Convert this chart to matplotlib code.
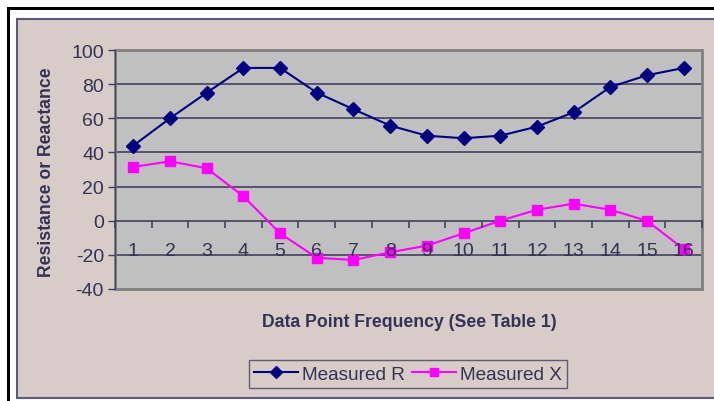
import numpy as np
import matplotlib.pyplot as plt
from matplotlib.patches import Rectangle
from matplotlib.ticker import FixedLocator

plt.rcParams['font.family'] = ['Liberation Sans', 'DejaVu Sans']
plt.rcParams['axes.unicode_minus'] = False

# Datos
puntos = np.arange(1, 17)
medido_r = [44, 60, 75, 89.5, 89.5, 75, 65.3, 55.7, 49.8, 48.3, 49.8, 55.1, 63.5, 78.3, 85.2, 89.5]
medido_x = [31.5, 34.8, 30.7, 14.3, -7.4, -21.7, -23, -18.5, -14.6, -7.4, 0, 6.4, 10, 6.4, 0, -16.6]
etiquetas_x = [str(p) for p in puntos]
ticks_y = [-40, -20, 0, 20, 40, 60, 80, 100]

color_texto = '#333355'
W, H = 714, 402

fig = plt.figure(figsize=(W / 100, H / 100), dpi=100)
fig.patch.set_facecolor('white')

# Fondo: marco negro y area del grafico
fondo = fig.add_axes([0, 0, 1, 1])
fondo.set_xlim(0, W)
fondo.set_ylim(H, 0)
fondo.axis('off')
fondo.add_patch(Rectangle((7, 8), W, 3, facecolor='black', edgecolor='none'))
fondo.add_patch(Rectangle((7, 8), 3, H, facecolor='black', edgecolor='none'))
fondo.add_patch(Rectangle((16.5, 19.5), W + 10, 379, facecolor='#D8CCC8',
                          edgecolor='#5A5A80', linewidth=1.5))

# Area de trazado
ax = fig.add_axes([115 / W, 1 - 290 / H, 587 / W, 239 / H])
ax.set_facecolor('#C0C0C0')
ax.set_xlim(0.5, 16.5)
ax.set_ylim(-40, 100)
ax.set_axisbelow(False)  # etiquetas del eje encima de las series (como en Excel)

ax.plot(puntos, medido_r, color='#000080', marker='D', markersize=7,
        linewidth=1.5, label='Measured R', zorder=2.3)
ax.plot(puntos, medido_x, color='#FF00FF', marker='s', markersize=7.5,
        linewidth=1.5, label='Measured X', zorder=2.3)

# Rejilla
for v in ticks_y[1:-1]:
    if v != 0:
        ax.axhline(v, color='#363656', linewidth=1.1, zorder=1)

# Marco gris
for s in ['top', 'right']:
    ax.spines[s].set_visible(False)
ax.add_patch(Rectangle((0, 0), 1, 1, transform=ax.transAxes, fill=False,
                       edgecolor='#808080', linewidth=2, clip_on=False, zorder=2))
ax.spines['left'].set_color('#404060')
ax.spines['left'].set_zorder(2.5)

# Eje de categorias en y=0
ax.spines['bottom'].set_position(('data', 0))
ax.spines['bottom'].set_color('#404060')
ax.spines['bottom'].set_linewidth(1.2)
ax.spines['bottom'].set_zorder(2.2)
ax.xaxis.set_major_locator(FixedLocator(np.arange(0.5, 17, 1)))
ax.xaxis.set_major_formatter(plt.NullFormatter())
ax.set_xticks(puntos, etiquetas_x, minor=True)
ax.tick_params(axis='x', which='major', direction='out', length=5, width=1.2,
               color='#404060')
ax.tick_params(axis='x', which='minor', length=0, pad=15, labelsize=14,
               labelcolor=color_texto)

ax.set_yticks(ticks_y)
ax.tick_params(axis='y', direction='out', length=5, width=1, color='#404060',
               labelsize=14, labelcolor=color_texto, pad=3)

fig.text(47 / W, 1 - 172 / H, 'Resistance or Reactance', rotation=90,
         ha='center', va='center', fontsize=12.7, fontweight='bold', color=color_texto)
fig.text(409 / W, 1 - 323 / H, 'Data Point Frequency (See Table 1)',
         ha='center', va='center', fontsize=12.7, fontweight='bold', color=color_texto)

leg = fig.legend(loc='center', bbox_to_anchor=(408 / W, 1 - 375 / H), ncol=2,
                 frameon=True, fancybox=False, fontsize=13.7, handlelength=2.3,
                 handletextpad=0.2, columnspacing=0.4, borderpad=0.3,
                 labelcolor=color_texto, markerscale=0.85)
leg.get_frame().set_facecolor('#D8CCC8')
leg.get_frame().set_edgecolor('#404060')
leg.get_frame().set_linewidth(1)

fig.savefig('out.png', dpi=100)
